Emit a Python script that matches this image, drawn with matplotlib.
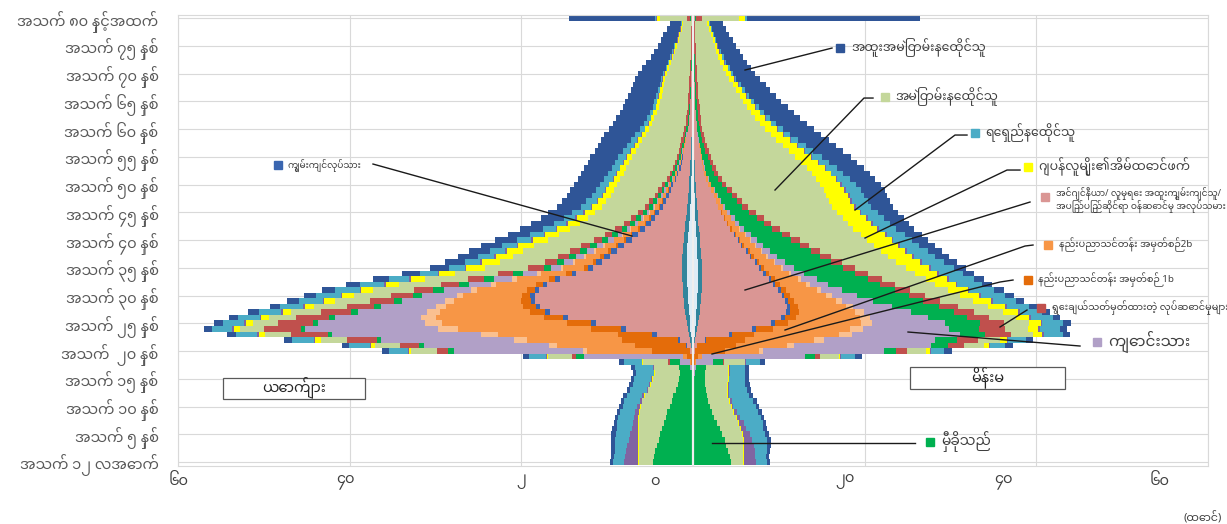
import numpy as np
import matplotlib
matplotlib.use("Agg")
import matplotlib.pyplot as plt
from matplotlib import font_manager as fm
from matplotlib.patches import Rectangle

# ---------------- font with Myanmar glyphs ----------------
_installed = {f.name for f in fm.fontManager.ttflist}
_pref = ["Noto Sans Myanmar", "Padauk", "Myanmar Sans Pro", "Myanmar Khyay",
         "Noto Sans Myanmar UI", "TharLon", "Yinmar", "Noto Serif Myanmar"]
MY = [n for n in _pref if n in _installed][:1]
FAM = MY + ["DejaVu Sans"]
plt.rcParams["font.family"] = FAM

# ---------------- data (thousand persons, single years of age 0..80+) ----------------
ages = list(range(81))
age_ticks = list(range(0, 81, 5))
age_labels = ["အသက် ၁၂ လအောက်", "အသက် ၅ နှစ်", "အသက် ၁၀ နှစ်", "အသက် ၁၅ နှစ်",
              "အသက်  ၂၀ နှစ်", "အသက် ၂၅ နှစ်", "အသက် ၃၀ နှစ်", "အသက် ၃၅ နှစ်",
              "အသက် ၄၀ နှစ်", "အသက် ၄၅ နှစ်", "အသက် ၅၀ နှစ်", "အသက် ၅၅ နှစ်",
              "အသက် ၆၀ နှစ်", "အသက် ၆၅ နှစ်", "အသက် ၇၀ နှစ်", "အသက် ၇၅ နှစ်",
              "အသက် ၈၀ နှင့်အထက်"]
x_grid = [-60, -40, -20, 0, 20, 40, 60]
x_labels = ["၆၀", "၄၀", "၂", "၀", "၂၀", "၄၀", "၆၀"]

# ----- male -----
M_core = [0]*10 + [0]*9 + [.03] + \
    [.05,.1,.15,.2,.3,.35,.4,.45,.5,.55] + [.6,.6,.65,.65,.7,.7,.7,.7,.65,.65] + \
    [.6,.55,.5,.45,.4,.35,.3,.28,.25,.22] + [.2,.18,.15,.12,.1,.08,.06,.05,.04,.03] + \
    [.02]*10 + [.02]*10 + [.05]
M_edge = [0]*10 + [0]*9 + [.03] + \
    [.05,.1,.15,.25,.3,.35,.4,.45,.5,.5] + [.55,.55,.55,.6,.6,.6,.6,.6,.55,.55] + \
    [.5,.5,.45,.45,.4,.4,.35,.35,.3,.3] + [.28,.26,.24,.22,.2,.18,.16,.15,.14,.13] + \
    [.12,.12,.11,.1,.1,.1,.1,.09,.09,.08] + [.08,.07,.07,.06,.06,.05,.05,.05,.04,.04] + [.1]
M_pink = [0]*10 + [0]*9 + [.1] + \
    [.2,.5,1.2,3.8,7.2,10.6,13.8,15.8,16.8,17.3] + [17.3,16.8,15.8,14.3,12.3,10.3,9.3,8.4,7.6,6.8] + \
    [6.0,5.3,4.6,4.0,3.6,3.2,2.8,2.5,2.2,2.0] + [1.8,1.5,1.3,1.1,1.0,.9,.8,.7,.6,.5] + \
    [.4,.35,.3,.25,.2,.18,.15,.12,.1,.1] + [.08,.07,.06,.05,.05,.04,.04,.03,.03,.02] + [.05]
M_skill = [0]*20 + \
    [0,.1,.3,.5,.6,.6,.6,.5,.5,.5] + [.5,.5,.5,.5,.55,.6,.65,.7,.7,.7] + \
    [.7,.7,.65,.6,.55,.5,.45,.4,.35,.3] + [.25,.2,.18,.15,.12,.1,.08,.06,.05,.04] + \
    [.03] + [0]*9 + [0]*10 + [0]
M_1b = [0]*10 + [0]*8 + [.2,.5] + \
    [4.5,6.0,6.5,4.0,3.5,2.8,2.2,1.8,1.5,1.2] + [1.0,.9,.8,.7,.6,.5,.45,.4,.35,.3] + \
    [.25,.2,.2,.15,.15,.1,.1,.1,.08,.06] + [.05] + [0]*9 + [0]*10 + [0]*10 + [0]
M_2b = [0]*10 + [0]*8 + [.1,.5] + \
    [7.5,9.0,11.0,14.0,15.5,14.5,12.5,10.5,9.0,7.8] + [6.8,5.8,4.6,3.8,3.0,2.4,2.0,1.7,1.5,1.3] + \
    [1.1,.9,.8,.7,.6,.5,.45,.4,.35,.3] + [.25,.2,.18,.15,.12,.1,.08,.06,.05,.04] + \
    [.03] + [0]*9 + [0]*10 + [0]
M_peach = [0]*20 + \
    [.5,1.0,1.5,2.0,2.3,2.0,1.8,1.5,1.2,1.0] + [.8,.7,.6,.5,.4,.3,.3,.2,.2,.2] + \
    [.1,.1,.1,.1,.1,.05,.05,0,0,0] + [0]*10 + [0]*10 + [0]*10 + [0]
M_student = [0]*10 + [0,0,0,0,0,.05,.1,.3,1.2,11.5] + \
    [15.0,14.5,15.5,17.3,15.5,12.5,10.0,8.0,6.3,5.0] + [4.0,3.2,2.6,2.1,1.7,1.2,1.0,.9,.8,.7] + \
    [.6,.5,.4,.35,.3,.25,.2,.2,.15,.15] + [.1,.1,.08,.08,.06,.06,.05,.05,.04,.04] + \
    [.03] + [0]*9 + [0]*10 + [0]
M_dep = [4.7,4.6,4.4,4.2,4.0,3.8,3.6,3.4,3.2,3.0] + [2.7,2.5,2.3,2.0,1.8,1.6,1.4,1.3,1.2,1.0] + \
    [.8,.6,.5,.5,.5,.6,.7,.8,.9,1.0] + [1.1,1.2,1.2,1.2,1.1,.8,.8,.8,.8,.75] + \
    [.7,.65,.6,.55,.5,.45,.4,.38,.35,.32] + [.3,.28,.26,.24,.22,.2,.19,.18,.17,.16] + \
    [.15,.14,.13,.12,.11,.1,.09,.08,.07,.06] + [.05,.05,.04,.04,.03,.03,.03,.02,.02,.02] + [.1]
M_desig = [0]*10 + [0]*8 + [.2,.4] + \
    [1.2,2.2,3.5,4.3,4.3,4.0,3.8,3.5,3.1,2.8] + [2.5,2.3,2.1,1.9,1.8,1.8,1.5,1.3,1.2,1.1] + \
    [1.0,.9,.8,.7,.65,.6,.55,.5,.45,.4] + [.35,.33,.3,.3,.28,.27,.26,.25,.25,.25] + \
    [.25,.24,.23,.22,.21,.2,.19,.18,.17,.16] + [.15,.14,.13,.12,.11,.1,.09,.08,.07,.06] + [.4]
M_perm = [1.6,1.7,1.9,2.1,2.3,2.5,2.7,2.9,3.1,3.2] + [3.4,3.4,3.3,3.2,3.1,3.0,2.9,2.9,2.9,2.8] + \
    [3.0,2.9,3.0,3.0,2.8,3.0,3.2,3.5,3.8,4.1] + [4.4,4.7,4.9,5.0,5.0,5.0,5.2,5.3,5.4,5.5] + \
    [5.4,5.3,5.2,5.1,5.0,5.0,5.0,5.0,5.1,5.2] + [5.3,5.4,5.4,5.4,5.3,5.2,5.0,4.8,4.6,4.3] + \
    [4.1,3.9,3.7,3.5,3.3,3.2,3.1,3.0,2.9,2.8] + [2.6,2.4,2.2,2.0,1.8,1.6,1.4,1.3,1.1,1.0] + [3.1]
M_spouse = [.1]*10 + [.1]*9 + [.2] + \
    [.3,.5,.7,.7,.7,.8,.9,1.0,1.1,1.2] + [1.3,1.4,1.5,1.6,1.8,2.2,2.1,2.0,1.9,1.8] + \
    [1.7,1.6,1.5,1.4,1.3,1.2,1.1,1.0,.95,.9] + [.85,.8,.75,.7,.65,.6,.55,.5,.5,.45] + \
    [.45,.4,.4,.4,.35,.35,.35,.3,.3,.3] + [.3,.25,.25,.2,.2,.2,.15,.15,.15,.1] + [.4]
M_pspouse = [1.6,1.5,1.4,1.3,1.1,.9,.7,.6,.5,.4] + [.3,.2,.2,.1,.1,.1,.1,.1,.1,.1] + \
    [.1,.15,.2,.2,.2,.2,.2,.2,.2,.2] + [.2]*10 + [.2]*6 + [.1]*4 + [.1]*10 + \
    [.05]*10 + [.05]*10 + [.1]
M_long = [1.3,1.3,1.3,1.4,1.6,1.7,1.8,1.8,1.8,1.8] + [1.7,1.8,1.8,1.9,1.9,2.0,2.0,2.0,2.0,2.0] + \
    [2.2,2.4,2.5,2.5,2.3,2.4,2.5,2.6,2.7,2.8] + [2.9,2.9,2.8,2.4,2.1,1.8,1.8,1.8,1.8,1.7] + \
    [1.7,1.6,1.5,1.4,1.3,1.3,1.2,1.2,1.1,1.1] + [1.0,1.0,1.0,.9,.9,.9,.8,.8,.7,.7] + \
    [.6,.5,.45,.4,.35,.3,.25,.22,.2,.18] + [.16,.14,.12,.1,.1,.08,.08,.07,.06,.05] + [.1]
M_special = [.4,.4,.4,.5,.5,.5,.5,.4,.4,.4] + [.4,.4,.4,.4,.4,.4,.4,.5,.6,.7] + \
    [.8,.9,1.0,1.0,1.0,1.1,1.1,1.2,1.2,1.3] + [1.4,1.5,1.6,1.8,2.0,2.2,2.3,2.4,2.5,2.5] + \
    [2.5,2.6,2.6,2.7,2.7,2.8,2.8,2.9,2.9,3.0] + [3.0,3.1,3.1,3.2,3.2,3.3,3.3,3.4,3.5,3.6] + \
    [3.6,3.6,3.6,3.5,3.5,3.4,3.3,3.2,3.1,3.0] + [2.9,2.7,2.5,2.3,2.1,1.9,1.8,1.7,1.5,1.3] + [10.0]

# ----- female -----
F_core = [0]*10 + [0]*9 + [.03] + \
    [.05,.08,.12,.18,.25,.3,.35,.4,.45,.5] + [.5,.55,.55,.55,.55,.55,.55,.5,.5,.45] + \
    [.45,.4,.35,.3,.28,.25,.22,.2,.18,.15] + [.12,.1,.08,.06,.05,.04,.03,.03,.02,.02] + \
    [.02]*10 + [.02]*10 + [.05]
F_edge = [0]*10 + [0]*9 + [.03] + \
    [.05,.08,.12,.18,.25,.3,.35,.38,.4,.42] + [.45,.45,.45,.45,.45,.45,.45,.42,.4,.4] + \
    [.38,.36,.34,.32,.3,.28,.26,.24,.22,.2] + [.18,.16,.15,.14,.13,.12,.11,.1,.1,.1] + \
    [.1,.09,.09,.08,.08,.08,.07,.07,.07,.06] + [.06,.06,.05,.05,.05,.05,.04,.04,.04,.04] + [.1]
F_pink = [0]*20 + \
    [.1,.3,1.1,3.8,6.4,8.5,9.6,10.1,10.1,9.8] + [9.4,8.9,8.3,7.8,7.2,6.7,6.2,5.7,5.3,4.8] + \
    [4.4,4.0,3.6,3.3,3.0,2.7,2.4,2.2,2.0,1.8] + [1.5,1.3,1.1,1.0,.9,.8,.7,.6,.5,.4] + \
    [.35,.3,.25,.2,.18,.15,.12,.1,.1,.08] + [.07,.06,.05,.05,.04,.04,.03,.03,.02,.02] + [.05]
F_skill = [0]*20 + \
    [0,0,.2,.4,.4,.4,.4,.4,.4,.3] + [.3,.3,.3,.3,.25,.2,.2,.15,.15,.1] + \
    [.1,.1,.05,.05,.05,.05,0,0,0,0] + [0]*10 + [0]*10 + [0]*10 + [0]
F_1b = [0]*10 + [0]*8 + [.2,.5] + \
    [3.5,4.5,4.5,2.5,2.0,1.6,1.3,1.1,.9,.8] + [.7,.6,.5,.45,.4,.35,.3,.28,.25,.22] + \
    [.2,.18,.15,.12,.1,.08,.06,.05,0,0] + [0]*10 + [0]*10 + [0]*10 + [0]
F_2b = [0]*10 + [0]*8 + [.1,.5] + \
    [4.0,6.0,8.0,10.0,9.0,8.5,7.5,6.5,5.6,4.8] + [4.2,3.6,3.1,2.7,2.3,2.0,1.7,1.5,1.3,1.2] + \
    [1.1,1.0,.9,.8,.7,.6,.5,.4,.35,.3] + [.25,.2,.16,.12,.1,.08,.06,.04,.02,0] + \
    [0]*10 + [0]*10 + [0]
F_peach = [0]*20 + \
    [.5,.8,1.2,1.5,1.5,1.3,1.1,1.0,.8,.7] + [.6,.5,.4,.35,.3,.25,.2,.2,.15,.15] + \
    [.1,.1,.1,.05,.05,0,0,0,0,0] + [0]*10 + [0]*10 + [0]*10 + [0]
F_student = [0]*10 + [0,0,0,0,0,.05,.2,.3,2.0,12.0] + \
    [14.0,16.0,13.0,12.5,10.0,8.5,6.8,5.5,4.5,3.7] + [3.0,2.5,2.1,1.8,1.5,1.3,1.1,1.0,.9,.8] + \
    [.7,.6,.5,.45,.4,.3,.25,.2,.2,.15] + [.1,.1,.08,.08,.06,.06,.05,.05,.04,.04] + \
    [.03] + [0]*9 + [0]*10 + [0]
F_dep = [4.4,4.3,4.1,3.9,3.7,3.4,3.1,2.8,2.5,2.2] + [2.0,1.8,1.6,1.5,1.4,1.3,1.2,1.2,1.2,1.2] + \
    [1.5,2.0,2.5,3.0,3.5,4.0,4.5,5.0,5.5,5.8] + [6.0,6.1,6.1,6.0,5.9,5.7,5.4,5.1,4.8,4.4] + \
    [4.0,3.6,3.2,2.9,2.6,2.3,2.0,1.8,1.6,1.4] + [1.2,1.0,.9,.8,.7,.6,.5,.45,.4,.35] + \
    [.3,.28,.26,.24,.22,.2,.18,.16,.14,.12] + [.1,.1,.08,.08,.06,.06,.05,.05,.04,.04] + [.1]
F_desig = [0]*10 + [0]*8 + [.1,.5] + \
    [1.2,1.8,2.5,3.0,3.0,2.8,2.6,2.4,2.2,2.0] + [1.9,1.8,1.7,1.6,1.5,1.4,1.3,1.2,1.1,1.05] + \
    [1.0,.95,.9,.85,.8,.75,.7,.65,.6,.55] + [.5,.48,.46,.44,.42,.4,.38,.36,.34,.32] + \
    [.3,.29,.28,.27,.26,.25,.24,.23,.22,.21] + [.2,.19,.18,.17,.16,.15,.14,.13,.12,.11] + [.8]
F_perm = [1.4,1.5,1.7,1.9,2.1,2.3,2.4,2.5,2.5,2.5] + [2.4,2.4,2.4,2.5,2.6,2.7,2.7,2.6,2.4,2.2] + \
    [2.3,2.4,2.5,2.6,2.7,2.9,3.1,3.3,3.5,3.8] + [4.1,4.4,4.7,5.1,5.5,5.9,6.3,6.7,7.1,7.5] + \
    [7.9,8.3,8.6,8.9,9.2,9.5,9.8,10.1,10.4,10.7] + [10.9,11.0,10.9,10.6,10.2,9.8,9.3,8.8,8.3,7.8] + \
    [7.3,6.8,6.3,5.9,5.5,5.1,4.8,4.4,4.1,3.7] + [3.4,3.1,2.8,2.6,2.4,2.2,2.0,1.8,1.6,1.4] + [4.3]
F_spouse = [.1]*10 + [.1]*9 + [.2] + \
    [.4,.5,.8,1.0,1.2,1.4,1.6,1.8,2.0,2.1] + [2.2,2.3,2.4,2.5,2.6,2.7,2.8,2.8,2.8,2.8] + \
    [2.8,2.8,2.8,2.7,2.7,2.6,2.6,2.5,2.5,2.4] + [2.4,2.3,2.2,2.1,2.0,1.9,1.8,1.7,1.6,1.5] + \
    [1.4,1.3,1.2,1.1,1.0,.9,.8,.7,.65,.6] + [.55,.5,.45,.4,.35,.3,.28,.25,.22,.2] + [.6]
F_pspouse = [1.4,1.3,1.3,1.2,1.0,.8,.6,.5,.4,.3] + [.2,.2,.1,.1,.1,.1,.1,.1,.1,.1] + \
    [.1,.1,.2,.2,.2,.2,.2,.2,.2,.2] + [.2]*10 + [.2]*10 + [.2] + [.1]*9 + \
    [.05]*10 + [.05]*10 + [.1]
F_long = [1.3,1.3,1.4,1.5,1.7,1.8,2.0,2.2,2.4,2.5] + [2.6,2.5,2.3,2.1,1.9,1.8,1.7,1.7,1.6,1.6] + \
    [1.6,1.8,2.0,2.2,2.3,2.4,2.5,2.6,2.6,2.7] + [2.8,2.9,2.9,2.9,2.8,2.7,2.6,2.5,2.4,2.3] + \
    [2.2,2.1,2.0,2.0,1.9,1.9,1.8,1.8,1.7,1.7] + [1.6,1.5,1.4,1.3,1.2,1.1,1.0,.9,.8,.7] + \
    [.6,.55,.5,.45,.4,.35,.3,.28,.25,.22] + [.2,.18,.16,.14,.12,.1,.1,.08,.08,.06] + [.2]
F_special = [.4,.4,.4,.5,.5,.4,.4,.4,.4,.4] + [.4,.4,.5,.5,.5,.5,.5,.5,.6,.8] + \
    [.9,.9,.9,.9,.9,.9,.9,.9,1.0,1.0] + [1.0,1.1,1.1,1.2,1.3,1.4,1.5,1.6,1.7,1.8] + \
    [1.9,2.0,2.1,2.2,2.3,2.4,2.5,2.6,2.7,2.8] + [2.9,3.0,3.1,3.2,3.3,3.4,3.5,3.5,3.6,3.6] + \
    [3.6,3.6,3.5,3.4,3.3,3.2,3.1,3.0,2.9,2.8] + [2.6,2.5,2.4,2.3,2.2,2.0,1.9,1.8,1.7,1.6] + [20.2]

# stacking order from the centre outwards
series = [
    ("core",    "#DDECF6", M_core,    F_core),
    ("edge",    "#31859C", M_edge,    F_edge),
    ("pink",    "#DA9694", M_pink,    F_pink),
    ("skill",   "#3A66B0", M_skill,   F_skill),
    ("1b",      "#E46C0A", M_1b,      F_1b),
    ("2b",      "#F79646", M_2b,      F_2b),
    ("peach",   "#FAC090", M_peach,   F_peach),
    ("student", "#B1A0C7", M_student, F_student),
    ("dep",     "#00B050", M_dep,     F_dep),
    ("desig",   "#C0504D", M_desig,   F_desig),
    ("perm",    "#C4D79B", M_perm,    F_perm),
    ("spouse",  "#FFFF00", M_spouse,  F_spouse),
    ("pspouse", "#8064A2", M_pspouse, F_pspouse),
    ("long",    "#4BACC6", M_long,    F_long),
    ("special", "#2F5597", M_special, F_special),
]
colors = {k: c for k, c, _, _ in series}

# ---------------- figure ----------------
W, H = 1227, 524
fig = plt.figure(figsize=(W/100, H/100), dpi=100)
ax = fig.add_axes([178/W, 1-466/H, (1208-178)/W, (466-15)/H])
ax.set_xlim(-60, 60)
ax.set_ylim(-0.72, 80.55)

y = np.array(ages)
cumM = np.zeros(len(ages))
cumF = np.zeros(len(ages))
for key, col, mv, fv in series:
    mv = np.array(mv, float); fv = np.array(fv, float)
    ax.barh(y, -mv, left=-cumM, height=1.0, color=col, linewidth=0, zorder=2)
    ax.barh(y, fv, left=cumF, height=1.0, color=col, linewidth=0, zorder=2)
    cumM += mv; cumF += fv

ax.axvline(0, color="#EEEEEE", lw=1.6, zorder=3)

ax.set_axisbelow(True)
ax.set_xticks(x_grid)
ax.set_xticklabels([])
ax.set_yticks(age_ticks)
ax.set_yticklabels(age_labels, fontsize=10.5, color="#595959")
ax.tick_params(axis="both", length=0)
ax.tick_params(axis="y", pad=14)
ax.grid(True, color="#D9D9D9", lw=0.8)
for s in ax.spines.values():
    s.set_color("#D9D9D9"); s.set_linewidth(0.8)

def P(px, py):
    return ((px-693)/8.583, (462-py)/5.55)

# x-axis labels (placed as in the original)
for px, lab in zip([179, 345, 521, 655, 845, 1003, 1160], x_labels):
    xx, yy = P(px, 481)
    ax.text(xx, yy, lab, ha="center", va="center", fontsize=10.5, color="#404040", clip_on=False)
fig.text(1222/W, 1-517/H, "(ထောင်)", ha="right", va="center", fontsize=8, color="#404040")

# leader-line legend
ann = [
    ("အထူးအမြဲတမ်းနေထိုင်သူ", "special", (840, 48), (851, 48), [(832, 48), (745, 70)], 9),
    ("အမြဲတမ်းနေထိုင်သူ", "perm", (885, 97), (895, 97), [(873, 98), (864, 98), (775, 190)], 9),
    ("ရေရှည်နေထိုင်သူ", "long", (975, 133), (985, 133), [(967, 135), (955, 135), (855, 210)], 9),
    ("ဂျပန်လူမျိုး၏အိမ်ထောင်ဖက်", "spouse", (1028, 167), (1038, 167), [(1020, 170), (1007, 170), (865, 238)], 9),
    ("အင်ဂျင်နီယာ/ လူမှုရေး အထူးကျွမ်းကျင်သူ/\nအပြည်ပြည်ဆိုင်ရာ ဝန်ဆောင်မှု အလုပ်သမား", "pink", (1045, 197), (1056, 200), [(1030, 202), (745, 290)], 6.5),
    ("နည်းပညာသင်တန်း အမှတ်စဉ်2b", "2b", (1048, 245), (1059, 245), [(1033, 245), (1025, 246), (785, 330)], 7),
    ("နည်းပညာသင်တန်း အမှတ်စဉ် 1b", "1b", (1028, 280), (1038, 280), [(1013, 280), (1000, 282), (712, 354)], 7),
    ("ရွေးချယ်သတ်မှတ်ထားတဲ့ လုပ်ဆောင်မှုများ", "desig", (1041, 308), (1052, 308), [(1027, 310), (1000, 327)], 7),
    ("ကျောင်းသား", "student", (1097, 342), (1108, 342), [(1080, 346), (908, 332)], 11),
    ("မှီခိုသည်", "dep", (930, 442), (941, 442), [(915, 443), (712, 443)], 10),
    ("ကျွမ်းကျင်လုပ်သား", "skill", (278, 165), (288, 165), [(373, 164), (632, 236)], 6.5),
]
for text, key, sq, tp, line, fs in ann:
    xs, ys = zip(*[P(a, b) for a, b in line])
    ax.plot(xs, ys, color="#1A1A1A", lw=1.0, clip_on=False, zorder=6)
    sx, sy = P(*sq)
    ax.plot([sx], [sy], marker="s", ms=5.5, color=colors[key], ls="none", clip_on=False, zorder=7)
    tx, ty = P(*tp)
    ax.text(tx, ty, text, ha="left", va="center", fontsize=fs, color="#404040",
            clip_on=False, zorder=7, linespacing=1.0)

# sex boxes
for (x0, y0, x1, y1), lab in [((223, 378, 365, 399), "ယောက်ျား"), ((910, 367, 1065, 389), "မိန်းမ")]:
    bx, by = P(x0, y1)
    ax.add_patch(Rectangle((bx, by), (x1-x0)/8.583, (y1-y0)/5.55, fc="white", ec="#595959",
                           lw=0.9, zorder=6, clip_on=False))
    cx, cy = P((x0+x1)/2, (y0+y1)/2)
    ax.text(cx, cy, lab, ha="center", va="center", fontsize=10.5, color="#262626", zorder=7)

fig.savefig("out.png", dpi=100)
